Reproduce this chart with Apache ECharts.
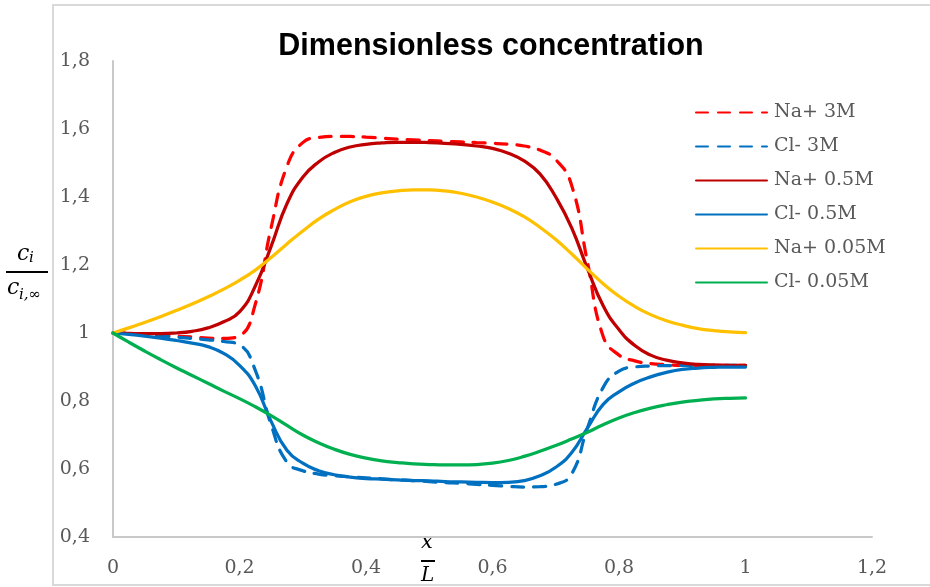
<!DOCTYPE html>
<html>
<head>
<meta charset="utf-8">
<script src="https://cdn.jsdelivr.net/npm/echarts/dist/echarts.min.js"></script>
<style>
html,body{margin:0;padding:0;background:#fff;}
#chart{width:930px;height:587px;}
</style>
</head>
<body>
<div id="chart"></div>
<script>
// x positions (x/L)
const xs = [0, 0.025, 0.05, 0.075, 0.1, 0.125, 0.15, 0.175, 0.2, 0.225, 0.25, 0.275, 0.3, 0.325, 0.35, 0.375, 0.4, 0.425, 0.45, 0.475, 0.5,
            0.525, 0.55, 0.575, 0.6, 0.625, 0.65, 0.675, 0.7, 0.725, 0.75, 0.775, 0.8, 0.825, 0.85, 0.875, 0.9, 0.925, 0.95, 0.975, 1.0];

const naPlus3M    = [1.0, 0.999, 0.997, 0.994, 0.991, 0.988, 0.985, 0.984, 0.992, 1.085, 1.31, 1.49, 1.56, 1.575, 1.578, 1.578, 1.576, 1.573, 1.57, 1.568, 1.566,
                     1.564, 1.562, 1.56, 1.558, 1.555, 1.55, 1.538, 1.51, 1.435, 1.21, 0.99, 0.935, 0.918, 0.91, 0.907, 0.905, 0.905, 0.905, 0.905, 0.905];
const clMinus3M   = [1.0, 0.998, 0.995, 0.991, 0.988, 0.984, 0.98, 0.975, 0.965, 0.89, 0.73, 0.62, 0.595, 0.585, 0.58, 0.577, 0.574, 0.571, 0.568, 0.566, 0.563,
                     0.56, 0.558, 0.555, 0.552, 0.549, 0.547, 0.548, 0.555, 0.585, 0.72, 0.84, 0.888, 0.9, 0.903, 0.904, 0.905, 0.905, 0.905, 0.905, 0.905];
const naPlus05M   = [1.0, 0.999, 0.998, 0.998, 1.0, 1.005, 1.015, 1.033, 1.062, 1.138, 1.255, 1.38, 1.458, 1.503, 1.531, 1.547, 1.555, 1.559, 1.561, 1.561, 1.56,
                     1.558, 1.555, 1.55, 1.543, 1.529, 1.506, 1.468, 1.40, 1.31, 1.19, 1.08, 1.01, 0.963, 0.935, 0.92, 0.912, 0.908, 0.906, 0.905, 0.905];
const clMinus05M  = [1.0, 0.996, 0.991, 0.985, 0.978, 0.97, 0.96, 0.94, 0.905, 0.845, 0.74, 0.655, 0.617, 0.595, 0.583, 0.576, 0.572, 0.57, 0.568, 0.566, 0.565,
                     0.563, 0.562, 0.561, 0.56, 0.561, 0.566, 0.58, 0.605, 0.648, 0.72, 0.79, 0.827, 0.853, 0.871, 0.884, 0.893, 0.897, 0.899, 0.9, 0.9];
const naPlus005M  = [1.0, 1.015, 1.031, 1.048, 1.066, 1.085, 1.106, 1.129, 1.155, 1.185, 1.222, 1.262, 1.30, 1.335, 1.363, 1.386, 1.402, 1.412, 1.418, 1.421, 1.421,
                     1.418, 1.411, 1.40, 1.385, 1.366, 1.342, 1.311, 1.275, 1.233, 1.188, 1.145, 1.108, 1.078, 1.054, 1.036, 1.023, 1.013, 1.007, 1.003, 1.001];
const clMinus005M = [1.0, 0.973, 0.947, 0.922, 0.898, 0.875, 0.852, 0.829, 0.807, 0.783, 0.757, 0.728, 0.70, 0.677, 0.658, 0.643, 0.632, 0.624, 0.619, 0.615, 0.613,
                     0.612, 0.612, 0.613, 0.617, 0.625, 0.637, 0.652, 0.669, 0.688, 0.708, 0.73, 0.75, 0.766, 0.779, 0.789, 0.797, 0.802, 0.806, 0.808, 0.809];

const seriesNames = ['Na+ 3M', 'Cl- 3M', 'Na+ 0.5M', 'Cl- 0.5M', 'Na+ 0.05M', 'Cl- 0.05M'];
const seriesValues = [naPlus3M, clMinus3M, naPlus05M, clMinus05M, naPlus005M, clMinus005M];
const seriesColors = ['#FF0000', '#0070C0', '#C00000', '#0070C0', '#FFC000', '#00B050'];
const seriesDashed = [true, true, false, false, false, false];

const chart = echarts.init(document.getElementById('chart'), null, {renderer: 'canvas'});
const fmt = v => String(Math.round(v * 10) / 10).replace('.', ',');
const labelFont = 'DejaVu Serif';

const option = {
  animation: false,
  backgroundColor: '#ffffff',
  title: {
    text: 'Dimensionless concentration',
    left: 491,
    top: 31,
    textAlign: 'center',
    padding: 0,
    textStyle: {
      fontFamily: '"Liberation Sans Narrow", "Arial Narrow", sans-serif',
      fontWeight: 'bold',
      fontSize: 30.5,
      color: '#000000'
    }
  },
  legend: {
    orient: 'vertical',
    left: 695,
    top: 103,
    padding: 0,
    itemWidth: 71,
    itemHeight: 14,
    itemGap: 15,
    itemStyle: { opacity: 0 },
    textStyle: { fontFamily: labelFont, fontSize: 19, color: '#595959', padding: [0, 0, 0, 2] },
    data: seriesNames
  },
  grid: { left: 113, top: 61, right: 58, bottom: 50, containLabel: false },
  xAxis: {
    type: 'value',
    min: 0, max: 1.2, interval: 0.2,
    axisLine: { show: true, lineStyle: { color: '#c8c8c8', width: 2 } },
    axisTick: { show: false },
    splitLine: { show: false },
    axisLabel: { formatter: fmt, fontFamily: labelFont, fontSize: 19, color: '#595959', margin: 22 }
  },
  yAxis: {
    type: 'value',
    min: 0.4, max: 1.8, interval: 0.2,
    axisLine: { show: true, onZero: false, lineStyle: { color: '#c8c8c8', width: 2 } },
    axisTick: { show: false },
    splitLine: { show: false },
    axisLabel: { formatter: fmt, fontFamily: labelFont, fontSize: 19, color: '#595959', margin: 23 }
  },
  graphic: [
    { type: 'rect', shape: { x: 53, y: 5, width: 900, height: 580 }, style: { fill: 'none', stroke: '#d9d9d9', lineWidth: 2 }, silent: true, z: -10 },
    // y-axis name: c_i / c_{i,inf}
    { type: 'text', x: 17, y: 254, style: { text: 'c', font: 'italic 22px "DejaVu Serif"', fill: '#000', textVerticalAlign: 'middle' } },
    { type: 'text', x: 29, y: 258, style: { text: 'i', font: 'italic 15px "DejaVu Serif"', fill: '#000', textVerticalAlign: 'middle' } },
    { type: 'line', shape: { x1: 6, y1: 272, x2: 48, y2: 272 }, style: { stroke: '#000', lineWidth: 2 } },
    { type: 'text', x: 7, y: 288, style: { text: 'c', font: 'italic 22px "DejaVu Serif"', fill: '#000', textVerticalAlign: 'middle' } },
    { type: 'text', x: 19, y: 295, style: { text: 'i,∞', font: 'italic 15px "DejaVu Serif"', fill: '#000', textVerticalAlign: 'middle' } },
    // x-axis name: x / L
    { type: 'text', x: 421, y: 543, style: { text: 'x', font: 'italic 21px "DejaVu Serif"', fill: '#000', textVerticalAlign: 'middle' } },
    { type: 'line', shape: { x1: 421, y1: 561, x2: 435, y2: 561 }, style: { stroke: '#000', lineWidth: 2 } },
    { type: 'text', x: 421, y: 576, style: { text: 'L', font: 'italic 20px "DejaVu Serif"', fill: '#000', textVerticalAlign: 'middle' } }
  ],
  series: seriesNames.map((name, i) => ({
    name: name,
    type: 'line',
    showSymbol: false,
    symbol: 'none',
    smooth: 0.5,
    color: seriesColors[i],
    lineStyle: {
      color: seriesColors[i],
      width: 3.25,
      type: seriesDashed[i] ? [12, 10] : 'solid',
      cap: 'round'
    },
    data: xs.map((x, j) => [x, seriesValues[i][j]])
  }))
};
chart.setOption(option);
</script>
</body>
</html>
